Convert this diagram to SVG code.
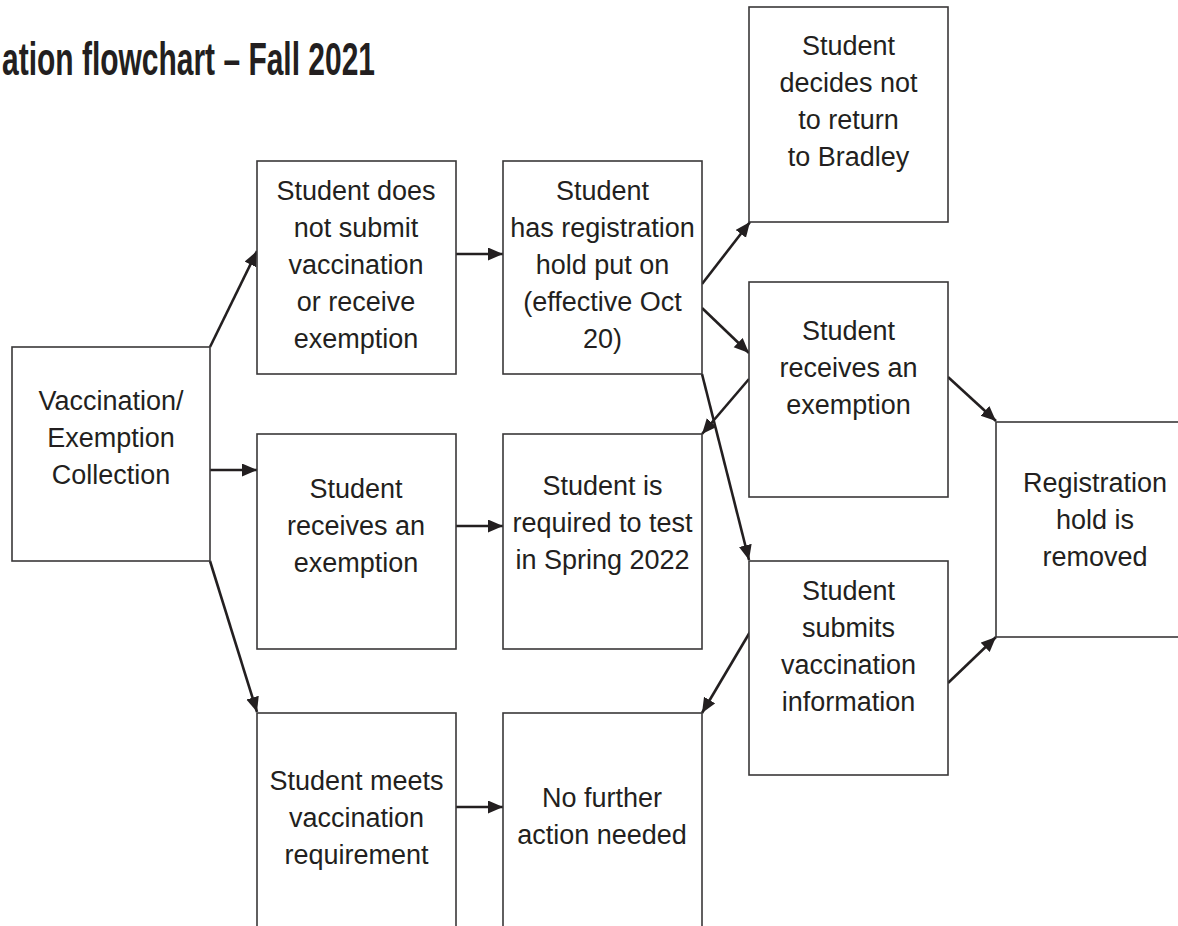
<svg xmlns="http://www.w3.org/2000/svg" width="1178" height="926" viewBox="0 0 1178 926">
<defs>
<style>
.box{fill:#ffffff;stroke:#3a3839;stroke-width:1.6}
.t{font-family:"Liberation Sans",Arial,sans-serif;font-size:27px;fill:#231f20;text-anchor:middle}
.title{font-family:"Liberation Sans",Arial,sans-serif;font-size:47px;font-weight:bold;fill:#231f20}
.c{fill:none;stroke:#231f20;stroke-width:2.6;marker-end:url(#ah)}
</style>
<marker id="ah" markerUnits="userSpaceOnUse" markerWidth="16" markerHeight="14" refX="15" refY="6.5" orient="auto">
<path d="M0,0 L15,6.5 L0,13 z" fill="#231f20"/>
</marker>
</defs>
<rect width="1178" height="926" fill="#ffffff"/>
<text class="title" x="2" y="75" textLength="373" lengthAdjust="spacingAndGlyphs">ation flowchart – Fall 2021</text>

<g id="connectors">
<line class="c" x1="210" y1="347" x2="257" y2="251"/>
<line class="c" x1="210" y1="470" x2="257" y2="470"/>
<line class="c" x1="210" y1="561" x2="257" y2="712"/>
<line class="c" x1="456" y1="254" x2="503" y2="254"/>
<line class="c" x1="456" y1="526" x2="503" y2="526"/>
<line class="c" x1="456" y1="807" x2="503" y2="807"/>
<line class="c" x1="702" y1="284" x2="750" y2="222"/>
<line class="c" x1="702" y1="308" x2="749" y2="353"/>
<line class="c" x1="749" y1="379" x2="702" y2="434"/>
<line class="c" x1="702" y1="374" x2="749" y2="560"/>
<line class="c" x1="750" y1="632" x2="702" y2="713"/>
<line class="c" x1="948" y1="377" x2="996" y2="421"/>
<line class="c" x1="948" y1="683" x2="996" y2="637"/>
</g>

<g id="n-collection">
<rect class="box" x="12" y="347" width="198" height="214"/>
<text class="t" x="111" y="410">Vaccination/</text>
<text class="t" x="111" y="447">Exemption</text>
<text class="t" x="111" y="484">Collection</text>
</g>

<g id="n-not-submit">
<rect class="box" x="257" y="161" width="199" height="213"/>
<text class="t" x="356" y="200">Student does</text>
<text class="t" x="356" y="237">not submit</text>
<text class="t" x="356" y="274">vaccination</text>
<text class="t" x="356" y="311">or receive</text>
<text class="t" x="356" y="348">exemption</text>
</g>

<g id="n-hold">
<rect class="box" x="503" y="161" width="199" height="213"/>
<text class="t" x="602.5" y="200">Student</text>
<text class="t" x="602.5" y="237">has registration</text>
<text class="t" x="602.5" y="274">hold put on</text>
<text class="t" x="602.5" y="311">(effective Oct</text>
<text class="t" x="602.5" y="348">20)</text>
</g>

<g id="n-not-return">
<rect class="box" x="749" y="7" width="199" height="215"/>
<text class="t" x="848.5" y="55">Student</text>
<text class="t" x="848.5" y="92">decides not</text>
<text class="t" x="848.5" y="129">to return</text>
<text class="t" x="848.5" y="166">to Bradley</text>
</g>

<g id="n-exemption-right">
<rect class="box" x="749" y="282" width="199" height="215"/>
<text class="t" x="848.5" y="340">Student</text>
<text class="t" x="848.5" y="377">receives an</text>
<text class="t" x="848.5" y="414">exemption</text>
</g>

<g id="n-removed">
<rect class="box" x="996" y="422" width="199" height="215"/>
<text class="t" x="1095" y="492">Registration</text>
<text class="t" x="1095" y="529">hold is</text>
<text class="t" x="1095" y="566">removed</text>
</g>

<g id="n-exemption-mid">
<rect class="box" x="257" y="434" width="199" height="215"/>
<text class="t" x="356" y="498">Student</text>
<text class="t" x="356" y="535">receives an</text>
<text class="t" x="356" y="572">exemption</text>
</g>

<g id="n-test">
<rect class="box" x="503" y="434" width="199" height="215"/>
<text class="t" x="602.5" y="495">Student is</text>
<text class="t" x="602.5" y="532">required to test</text>
<text class="t" x="602.5" y="569">in Spring 2022</text>
</g>

<g id="n-submits">
<rect class="box" x="749" y="561" width="199" height="214"/>
<text class="t" x="848.5" y="600">Student</text>
<text class="t" x="848.5" y="637">submits</text>
<text class="t" x="848.5" y="674">vaccination</text>
<text class="t" x="848.5" y="711">information</text>
</g>

<g id="n-meets">
<rect class="box" x="257" y="713" width="199" height="216"/>
<text class="t" x="356.5" y="790">Student meets</text>
<text class="t" x="356.5" y="827">vaccination</text>
<text class="t" x="356.5" y="864">requirement</text>
</g>

<g id="n-no-action">
<rect class="box" x="503" y="713" width="199" height="216"/>
<text class="t" x="602" y="807">No further</text>
<text class="t" x="602" y="844">action needed</text>
</g>
</svg>
